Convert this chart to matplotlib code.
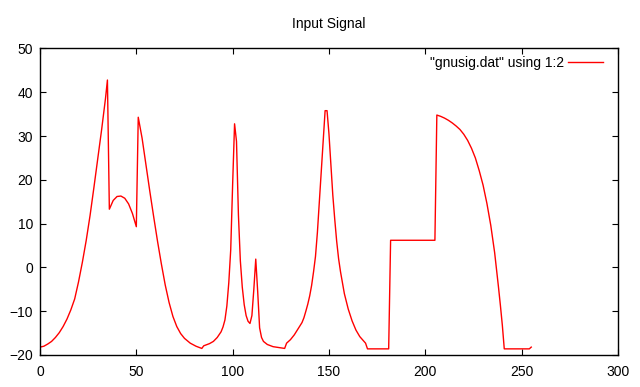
import matplotlib
matplotlib.use("Agg")
import matplotlib.pyplot as plt

# samples (x = index, y = signal value)
x = [0, 2, 4, 6, 8, 10, 12, 14, 16, 18, 20, 22, 24, 26, 28, 30, 32, 34, 35,
     36, 38, 40, 42, 44, 46, 48, 50,
     51, 53, 55, 57, 59, 61, 63, 65, 67, 69, 71, 73, 75, 78, 81, 84,
     85, 88, 90, 92, 94, 95, 96, 97, 98, 99, 100, 101, 102, 103, 104, 105,
     106, 107, 108, 109, 110, 111, 112, 113, 114, 115, 116, 118, 121, 124, 127,
     128, 130, 132, 134, 136, 137, 138, 139, 140, 141, 142, 143, 144, 145, 146, 147, 148,
     149, 150, 151, 152, 153, 154, 155, 156, 158, 160, 162, 164, 166, 168,
     169, 170, 181,
     182, 205,
     206, 208, 210, 212, 214, 216, 218, 220, 222, 224, 226, 228, 230, 232, 234,
     236, 238, 239, 240, 241, 254, 255]
y = [-18.2, -18.0, -17.5, -16.9, -16.0, -14.9, -13.5, -11.8, -9.7, -7.2, -3.3, 1.2, 6.2,
     11.9, 18.3, 24.9, 31.5, 38.6, 42.8,
     13.3, 15.3, 16.2, 16.3, 15.8, 14.5, 12.3, 9.3,
     34.3, 29.5, 23.4, 17.4, 11.6, 6.0, 0.8, -4.0, -8.0, -11.2, -13.5, -15.1, -16.2, -17.3, -18.0, -18.5,
     -17.9, -17.4, -16.9, -16.0, -14.7, -13.6, -12.0, -8.8, -3.5, 4.0, 19.0, 32.8, 28.8, 12.0, 1.5, -4.5,
     -8.5, -11.0, -12.3, -12.8, -11.0, -5.0, 1.9, -5.5, -13.8, -16.0, -16.9, -17.6, -18.1, -18.3, -18.5,
     -17.3, -16.5, -15.4, -14.0, -12.6, -11.5, -10.0, -8.4, -6.5, -4.1, -1.0, 2.5, 8.0, 15.0, 22.0, 29.0, 35.8,
     35.8, 30.5, 23.5, 16.5, 11.0, 6.0, 2.0, -1.0, -6.0, -9.5, -12.2, -14.3, -15.8, -16.8,
     -17.3, -18.6, -18.6,
     6.2, 6.2,
     34.8, 34.5, 34.1, 33.6, 33.0, 32.3, 31.5, 30.4, 29.0, 27.2, 25.0, 22.1, 18.8, 14.6, 9.6,
     3.4, -4.5, -8.7, -13.2, -18.6, -18.6, -18.2]

plt.rcParams["font.family"] = ["Liberation Sans", "DejaVu Sans"]
plt.rcParams["font.size"] = 10

fig = plt.figure(figsize=(6.4, 3.87), dpi=100)
ax = fig.add_axes([0.0625, 0.0827, 0.903, 0.792])

ax.plot(x, y, color="#ff0000", linewidth=1.0, label='"gnusig.dat" using 1:2')

ax.set_xlim(0, 300)
ax.set_ylim(-20, 50)
ax.set_xticks(range(0, 301, 50))
ax.set_yticks(range(-20, 51, 10))
ax.tick_params(direction="in", top=True, right=True, length=4.5, width=0.8)
ax.tick_params(axis="x", pad=7)
ax.tick_params(axis="y", pad=5)
for s in ax.spines.values():
    s.set_linewidth(1.0)

ax.set_title("Input Signal", fontsize=10, pad=15)
ax.legend(loc="upper right", bbox_to_anchor=(0.974, 0.976), frameon=False,
          markerfirst=False, handlelength=2.5, handletextpad=0.3,
          borderaxespad=0, borderpad=0, fontsize=10)

fig.savefig("out.png", dpi=100)
